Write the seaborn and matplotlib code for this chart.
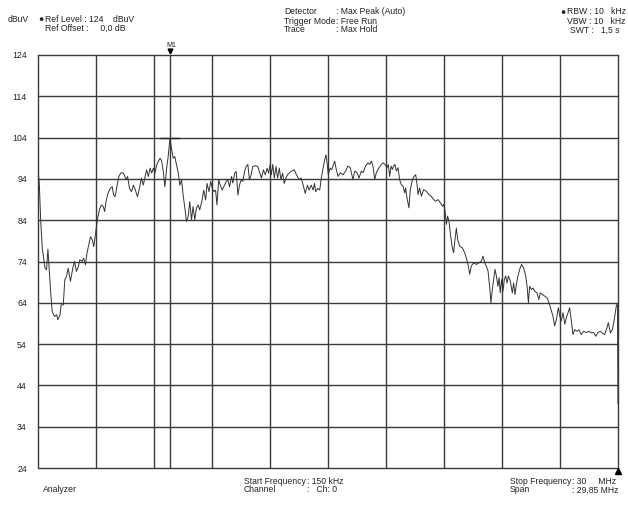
import matplotlib
matplotlib.use("Agg")
import matplotlib.pyplot as plt
import seaborn as sns
import pandas as pd

# Spectrum trace: frequency (MHz) and level (dBuV)
freq_mhz = [
    0.15, 0.22, 0.29, 0.37, 0.51, 0.59, 0.66, 0.71, 0.80, 0.88, 1.00, 1.11, 1.17, 1.28, 1.34,
    1.45, 1.53, 1.62, 1.70, 1.82, 1.94, 2.03, 2.13, 2.23, 2.30, 2.42, 2.50, 2.59, 2.67, 2.76,
    2.85, 2.95, 3.02, 3.08, 3.15, 3.22, 3.31, 3.41, 3.51, 3.58, 3.65, 3.75, 3.87, 3.97, 4.04,
    4.12, 4.21, 4.31, 4.41, 4.52, 4.58, 4.69, 4.76, 4.86, 4.96, 5.06, 5.16, 5.27, 5.37, 5.47,
    5.57, 5.68, 5.74, 5.83, 5.92, 6.00, 6.09, 6.17, 6.26, 6.34, 6.43, 6.51, 6.60, 6.68, 6.77,
    6.85, 6.94, 7.02, 7.11, 7.19, 7.28, 7.37, 7.45, 7.54, 7.62, 7.71, 7.79, 7.88, 7.96, 8.05,
    8.13, 8.22, 8.30, 8.39, 8.47, 8.58, 8.68, 8.78, 8.85, 8.95, 9.04, 9.12, 9.21, 9.29, 9.36,
    9.45, 9.53, 9.63, 9.75, 9.84, 9.92, 10.01, 10.11, 10.18, 10.27, 10.35, 10.44, 10.52, 10.61,
    10.69, 10.78, 10.86, 10.95, 11.03, 11.12, 11.20, 11.34, 11.46, 11.54, 11.65, 11.75, 11.85,
    11.94, 12.02, 12.09, 12.16, 12.23, 12.31, 12.40, 12.48, 12.57, 12.65, 12.74, 12.82, 12.91,
    12.99, 13.16, 13.34, 13.45, 13.59, 13.69, 13.80, 13.90, 14.02, 14.10, 14.21, 14.31, 14.38,
    14.44, 14.55, 14.65, 14.73, 14.82, 14.90, 14.97, 15.04, 15.09, 15.18, 15.26,
    15.42, 15.50, 15.59, 15.71, 15.85, 15.98, 16.10, 16.22, 16.36, 16.45, 16.57, 16.67, 16.79,
    16.88, 17.01, 17.13, 17.22, 17.31, 17.39, 17.48, 17.56, 17.70, 17.82, 17.91, 18.01, 18.11,
    18.18, 18.25, 18.32, 18.39, 18.45, 18.52, 18.59, 18.68, 18.76, 18.85, 18.94, 19.02, 19.07,
    19.14, 19.24, 19.31, 19.42, 19.50, 19.59, 19.66, 19.71, 19.79, 19.88, 20.00, 20.14, 20.27,
    20.39, 20.51, 20.62, 20.74, 20.86, 20.96, 21.03, 21.10, 21.17, 21.23, 21.30, 21.39, 21.46,
    21.54, 21.61, 21.68, 21.75, 21.85, 21.99, 22.11, 22.19, 22.28, 22.37, 22.45, 22.57, 22.71,
    22.85, 22.97, 23.05, 23.14, 23.22, 23.31, 23.40, 23.46, 23.53, 23.60, 23.67, 23.74, 23.82,
    23.88, 23.94, 24.01, 24.08, 24.15, 24.22, 24.29, 24.36, 24.46, 24.56, 24.63, 24.70, 24.77,
    24.85, 24.94, 25.04, 25.14, 25.25, 25.32, 25.39, 25.45, 25.54, 25.63, 25.71, 25.83, 25.93,
    26.00, 26.11, 26.23, 26.35, 26.45, 26.55, 26.65, 26.74, 26.83, 26.93, 27.00, 27.08, 27.17,
    27.26, 27.34, 27.43, 27.51, 27.60, 27.68, 27.77, 27.89, 27.99, 28.11, 28.23, 28.37, 28.51,
    28.63, 28.75, 28.85, 28.97, 29.09, 29.19, 29.31, 29.43, 29.50, 29.61, 29.71, 29.81, 29.91,
    29.97, 30.00,
]
level_dbuv = [
    96.6, 92.5, 83.7, 77.2, 72.4, 72.0, 77.0, 73.2, 66.7, 61.9, 60.7, 61.1, 59.9, 61.1, 63.5,
    63.5, 69.6, 70.4, 72.4, 69.2, 72.4, 74.0, 71.6, 72.8, 74.4, 74.0, 74.8, 73.2, 76.0, 78.0,
    80.0, 79.2, 77.6, 79.6, 82.1, 84.5, 86.5, 87.7, 87.3, 86.1, 88.5, 90.5, 91.7, 92.1, 90.1,
    89.7, 92.1, 94.6, 95.4, 95.5, 95.1, 93.8, 94.6, 91.7, 90.9, 92.5, 91.3, 89.7, 91.7, 94.2,
    92.5, 95.0, 96.2, 94.6, 96.6, 95.4, 96.6, 95.4, 97.4, 98.2, 99.0, 98.4, 95.8, 92.1, 96.6,
    99.4, 103.8, 101.4, 99.0, 99.4, 97.4, 95.4, 92.5, 93.8, 90.1, 86.9, 83.7, 84.9, 88.5, 84.1,
    87.3, 84.1, 86.9, 87.7, 86.5, 88.5, 91.3, 88.9, 92.9, 90.9, 93.4, 91.7, 90.9, 91.3, 87.7,
    93.8, 92.5, 91.3, 92.5, 93.4, 93.8, 92.1, 94.6, 93.0, 95.4, 95.8, 90.1, 92.5, 93.8,
    93.4, 95.8, 97.0, 97.5, 93.8, 95.0, 97.0, 97.2, 97.0, 95.8, 94.2, 96.2, 95.0,
    96.6, 95.4, 97.4, 95.0, 97.5, 94.2, 97.0, 94.2, 96.6, 93.8, 95.4, 92.9, 94.2,
    95.0, 95.8, 96.2, 95.0, 93.8, 94.2, 92.5, 90.5, 92.5, 91.3, 92.5, 91.3, 92.9,
    90.9, 91.7, 91.3, 94.2, 96.6, 98.6, 99.8, 97.4, 95.0, 96.6, 96.2,
    98.3, 96.3, 94.6, 95.5, 95.0, 95.9, 97.1, 96.7, 93.8, 95.9, 95.5, 94.2, 95.9,
    95.5, 97.1, 97.9, 97.5, 98.3, 97.1, 93.8, 95.5, 96.7, 97.5, 97.9, 97.5, 96.7,
    97.5, 94.6, 97.1, 96.3, 97.1, 97.5, 95.9, 96.7, 93.8, 92.6, 92.2, 90.6, 91.8,
    89.4, 87.0, 91.4, 93.8, 94.6, 95.0, 92.6, 90.2, 91.8, 89.8, 91.4, 91.0, 90.2,
    89.8, 89.0, 88.6, 89.0, 88.2, 87.4, 87.8, 86.2, 83.0, 85.0, 83.8, 80.1, 77.7,
    76.1, 79.3, 82.1, 79.3, 77.7, 77.3, 76.1, 74.9, 73.3, 70.9, 72.9, 73.7, 73.3,
    73.7, 74.1, 75.3, 73.7, 72.9, 71.7, 67.6, 64.0, 67.2, 69.6, 72.1, 70.5, 68.0,
    70.1, 66.4, 69.6, 66.8, 69.6, 70.5, 68.8, 70.5, 69.2, 66.4, 68.8, 66.0, 68.4,
    70.5, 72.1, 73.3, 72.5, 70.5, 68.0, 64.0, 68.0, 67.2, 67.6, 66.8, 66.4, 64.8,
    66.4, 66.0, 65.6, 65.2, 64.0, 62.4, 60.8, 58.4, 60.0, 62.8, 60.8, 59.6, 61.6,
    58.8, 60.4, 61.6, 62.8, 59.6, 56.3, 57.5, 57.1, 57.5, 56.3, 57.1, 56.8, 57.1,
    56.7, 56.8, 55.9, 56.8, 57.1, 56.7, 56.3, 57.9, 59.2, 56.7, 57.5, 60.0, 63.2,
    63.8, 39.5,
]

y_ticks = [24, 34, 44, 54, 64, 74, 84, 94, 104, 114, 124]
start_mhz = 0.15
stop_mhz = 30.0
marker_mhz = 6.94
marker_dbuv = 103.8

df = pd.DataFrame({"freq": freq_mhz, "level": level_dbuv})

sns.set_theme(style="white")
plt.rcParams["font.family"] = ["Liberation Sans Narrow", "Liberation Sans", "DejaVu Sans"]

fig = plt.figure(figsize=(6.28, 5.11), dpi=100)
ax = fig.add_axes([38 / 628, 1 - 468 / 511, 580 / 628, 413 / 511])

grid_col = "#3a3a3a"
span = stop_mhz - start_mhz
x_grid = [start_mhz + span * k / 10 for k in range(11)]

for xv in x_grid:
    ax.axvline(xv, color=grid_col, lw=1.0, zorder=1, clip_on=False)
for yv in y_ticks:
    ax.axhline(yv, color=grid_col, lw=1.0, zorder=1, clip_on=False)

# marker line and level bar
ax.axvline(marker_mhz, color=grid_col, lw=1.0, zorder=1)
ax.hlines(marker_dbuv, marker_mhz - 0.5, marker_mhz + 0.5, color="#222222", lw=1.0, zorder=3)

sns.lineplot(data=df, x="freq", y="level", ax=ax, color="#333333", lw=0.7,
             estimator=None, sort=False, zorder=2)

ax.set_xlim(start_mhz, stop_mhz)
ax.set_ylim(24, 124)
ax.set_xticks([])
ax.set_yticks(y_ticks)
ax.set_yticklabels([str(v) for v in y_ticks], fontsize=6.3, color="#222222")
ax.tick_params(axis="y", length=0, pad=8)
ax.set_xlabel("")
ax.set_ylabel("")
for s in ax.spines.values():
    s.set_visible(False)

# marker symbols
ax.plot([marker_mhz], [124.9], marker="v", color="black", ms=3.5, clip_on=False, zorder=5)
ax.text(marker_mhz + 0.05, 125.4, "M1", fontsize=5, ha="center", va="bottom", color="#222222")
ax.plot([stop_mhz], [23.2], marker="^", color="black", ms=4.5, clip_on=False, zorder=5)

fs = 6.2
tc = "#222222"
def px(x, y, s, ha="left"):
    fig.text(x / 628, 1 - y / 511, s, fontsize=fs, ha=ha, va="center", color=tc)

px(8, 19, "dBuV")
px(38, 19, "\u25CF")
px(45, 19, "Ref Level : 124    dBuV")
px(45, 28, "Ref Offset :     0,0 dB")

px(284, 12, "Detector")
px(284, 21, "Trigger Mode")
px(284, 30, "Trace")
px(336, 12, ": Max Peak (Auto)")
px(336, 21, ": Free Run")
px(336, 30, ": Max Hold")

px(560, 12, "\u25CF")
px(567, 12, "RBW : 10   kHz")
px(567, 21, "VBW : 10   kHz")
px(570, 30, "SWT :   1,5 s")

px(43, 490, "Analyzer")
px(244, 481, "Start Frequency")
px(244, 490, "Channel")
px(307, 481, ": 150 kHz")
px(307, 490, ":   Ch: 0")
px(510, 481, "Stop Frequency")
px(510, 490, "Span")
px(572, 481, ": 30     MHz")
px(572, 490, ": 29,85 MHz")

fig.savefig("out.png", dpi=100, facecolor="white")
